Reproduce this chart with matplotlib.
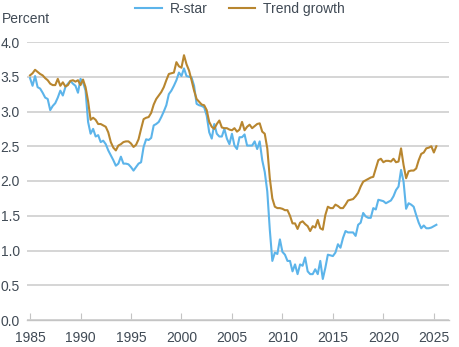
import numpy as np
import matplotlib
matplotlib.use("Agg")
import matplotlib.pyplot as plt

plt.rcParams['font.family'] = ['Liberation Sans', 'DejaVu Sans']

# quarterly estimates, 1985Q1 .. 2025Q2
start_year = 1985
rstar = [
    3.48, 3.37, 3.51, 3.35,  # 1985
    3.33, 3.27, 3.20, 3.18,
    3.02, 3.08, 3.12, 3.20,
    3.30, 3.23, 3.35, 3.40,
    3.44, 3.40, 3.37, 3.27,
    3.47, 3.42, 3.30, 2.85,  # 1990
    2.68, 2.75, 2.64, 2.66,
    2.56, 2.58, 2.53, 2.44,
    2.37, 2.30, 2.22, 2.25,
    2.35, 2.25, 2.25, 2.24,
    2.20, 2.15, 2.20, 2.25,  # 1995
    2.27, 2.49, 2.60, 2.59,
    2.62, 2.80, 2.82, 2.85,
    2.92, 3.00, 3.09, 3.25,
    3.30, 3.37, 3.45, 3.56,
    3.51, 3.62, 3.51, 3.50,  # 2000
    3.49, 3.37, 3.11, 3.09,
    3.08, 3.06, 2.94, 2.70,
    2.61, 2.82, 2.68, 2.64,
    2.64, 2.75, 2.61, 2.53,
    2.68, 2.51, 2.46, 2.63,  # 2005
    2.63, 2.67, 2.51, 2.51,
    2.51, 2.57, 2.46, 2.57,
    2.30, 2.13, 1.85, 1.30,
    0.85, 0.97, 0.95, 1.16,
    0.98, 0.94, 0.85, 0.85,  # 2010
    0.70, 0.80, 0.66, 0.80,
    0.78, 0.90, 0.70, 0.66,
    0.66, 0.73, 0.66, 0.85,
    0.59, 0.75, 0.94, 0.93,
    0.92, 0.97, 1.09, 1.04,  # 2015
    1.18, 1.28, 1.26, 1.26,
    1.26, 1.21, 1.37, 1.40,
    1.54, 1.49, 1.47, 1.47,
    1.61, 1.59, 1.73, 1.72,
    1.71, 1.68, 1.70, 1.72,  # 2020
    1.78, 1.87, 1.92, 2.16,
    1.99, 1.60, 1.68, 1.66,
    1.63, 1.51, 1.40, 1.32,
    1.36, 1.32, 1.32, 1.33,
    1.35, 1.37,              # 2025
]
trend = [
    3.52, 3.55, 3.60, 3.57,  # 1985
    3.54, 3.52, 3.48, 3.45,
    3.40, 3.38, 3.38, 3.47,
    3.37, 3.42, 3.36, 3.38,
    3.44, 3.45, 3.43, 3.45,
    3.38, 3.46, 3.35, 3.15,  # 1990
    2.88, 2.91, 2.88, 2.82,
    2.82, 2.80, 2.78, 2.70,
    2.56, 2.48, 2.44, 2.51,
    2.53, 2.56, 2.57, 2.57,
    2.54, 2.49, 2.52, 2.60,  # 1995
    2.75, 2.89, 2.91, 2.92,
    2.98, 3.10, 3.18, 3.23,
    3.28, 3.35, 3.45, 3.54,
    3.55, 3.56, 3.71, 3.65,
    3.63, 3.81, 3.68, 3.59,  # 2000
    3.45, 3.30, 3.18, 3.14,
    3.10, 3.09, 3.02, 2.85,
    2.78, 2.75, 2.82, 2.87,
    2.77, 2.76, 2.76, 2.74,
    2.73, 2.76, 2.71, 2.74,  # 2005
    2.85, 2.73, 2.78, 2.81,
    2.76, 2.79, 2.82, 2.83,
    2.71, 2.68, 2.47, 2.04,
    1.75, 1.63, 1.61, 1.61,
    1.60, 1.58, 1.58, 1.50,  # 2010
    1.39, 1.39, 1.31, 1.40,
    1.42, 1.38, 1.35, 1.28,
    1.35, 1.33, 1.44, 1.32,
    1.30, 1.51, 1.63, 1.61,
    1.61, 1.66, 1.64, 1.61,  # 2015
    1.61, 1.66, 1.72, 1.73,
    1.74, 1.78, 1.83, 1.92,
    1.99, 2.01, 2.03, 2.05,
    2.06, 2.18, 2.30, 2.32,
    2.27, 2.29, 2.29, 2.28,  # 2020
    2.32, 2.27, 2.28, 2.47,
    2.23, 2.04, 2.14, 2.15,
    2.15, 2.18, 2.30, 2.39,
    2.41, 2.47, 2.48, 2.50,
    2.41, 2.50,              # 2025
]
x_ticks = [1985, 1990, 1995, 2000, 2005, 2010, 2015, 2020, 2025]
y_ticks = [0.0, 0.5, 1.0, 1.5, 2.0, 2.5, 3.0, 3.5, 4.0]

t = start_year + np.arange(len(rstar)) / 4.0

text_col = '#404a55'
grid_col = '#d2d2d2'

fig = plt.figure(figsize=(4.6, 3.47), dpi=100)
ax = fig.add_axes([27 / 460, 27 / 347, 422 / 460, 278 / 347])

ax.plot(t, rstar, color='#5cb4ea', lw=1.5, label='R-star')
ax.plot(t, trend, color='#b8862f', lw=1.5, label='Trend growth')

ax.set_xlim(1984.7, 2026.5)
ax.set_ylim(0, 4.0)
ax.set_xticks(x_ticks)
ax.set_yticks(y_ticks)
ax.set_yticklabels([f'{v:.1f}' for v in y_ticks])
ax.yaxis.grid(True, color=grid_col, lw=1.3)
ax.set_axisbelow(True)
for s in ['top', 'right', 'left']:
    ax.spines[s].set_visible(False)
ax.spines['bottom'].set_color('#c4c4c4')
ax.spines['bottom'].set_linewidth(1.0)
ax.tick_params(axis='x', direction='in', length=5, color='#c4c4c4',
               labelsize=10, labelcolor=text_col, pad=8)
ax.tick_params(axis='y', length=0, labelsize=10, labelcolor=text_col, pad=5)

fig.text(0.004, 1 - 19 / 347, 'Percent', fontsize=10, color=text_col,
         ha='left', va='center')
fig.legend(loc='upper center', bbox_to_anchor=(0.522, 1.031), ncol=2,
           frameon=False, fontsize=10, handlelength=1.9, handletextpad=0.6,
           columnspacing=1.5, labelcolor=text_col)

fig.savefig('out.png', dpi=100)
